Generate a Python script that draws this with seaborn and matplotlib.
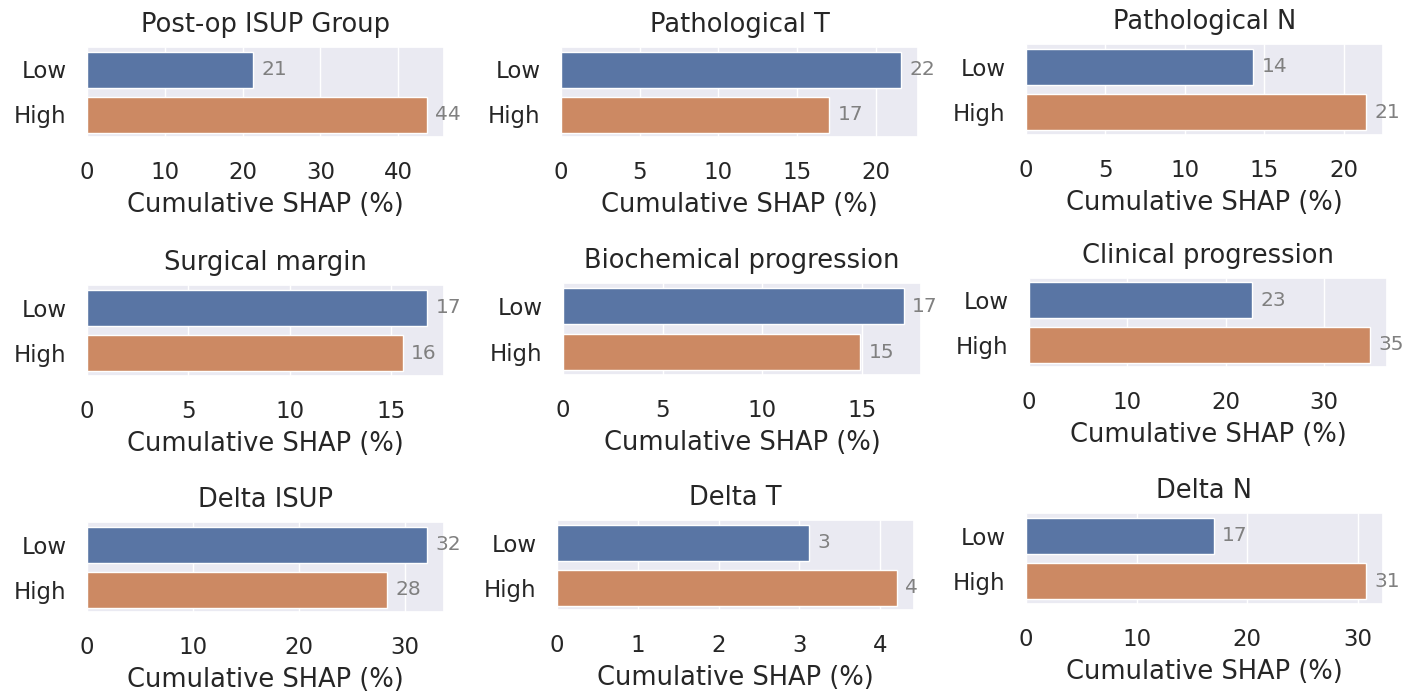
import pandas as pd
import matplotlib
matplotlib.use('Agg')
import matplotlib.pyplot as plt
import seaborn as sns

sns.set_theme(style='darkgrid')

# Cumulative SHAP (%) for each variable
groups = ['Low', 'High']
titles = ['Post-op ISUP Group', 'Pathological T', 'Pathological N',
          'Surgical margin', 'Biochemical progression', 'Clinical progression',
          'Delta ISUP', 'Delta T', 'Delta N']
low_vals = [21.3, 21.6, 14.3, 16.75, 17.1, 22.7, 32.1, 3.12, 17.0]
high_vals = [43.7, 17.05, 21.4, 15.55, 14.9, 34.7, 28.3, 4.21, 30.75]

W, H = 1419, 693
boxes = [(87, 47, 444, 137), (561, 47, 918, 137), (1026, 44, 1383, 135),
         (87, 285, 444, 376), (563, 283, 921, 375), (1029, 278, 1387, 367),
         (87, 522, 444, 612), (557, 520, 914, 610), (1026, 513, 1383, 604)]

fig, axes = plt.subplots(3, 3, figsize=(W / 100, H / 100), dpi=100)

for ax, box, title, lo, hi in zip(axes.flat, boxes, titles, low_vals, high_vals):
    l, t, r, b = box
    ax.set_position([l / W, 1 - b / H, (r - l) / W, (b - t) / H])
    df = pd.DataFrame({'group': groups, 'shap': [lo, hi]})
    sns.barplot(data=df, x='shap', y='group', hue='group', palette='deep',
                legend=False, ax=ax)
    for cont in ax.containers:
        ax.bar_label(cont, fmt='%.0f', color='grey', fontsize=14.5, padding=6)
    ax.set_title(title, fontsize=18.5, pad=11)
    ax.set_xlabel('Cumulative SHAP (%)', fontsize=18.5, labelpad=6)
    ax.set_ylabel('')
    ax.tick_params(axis='x', labelsize=16.5, pad=11)
    ax.tick_params(axis='y', labelsize=16.5, pad=8.5)

plt.savefig('out.png')
